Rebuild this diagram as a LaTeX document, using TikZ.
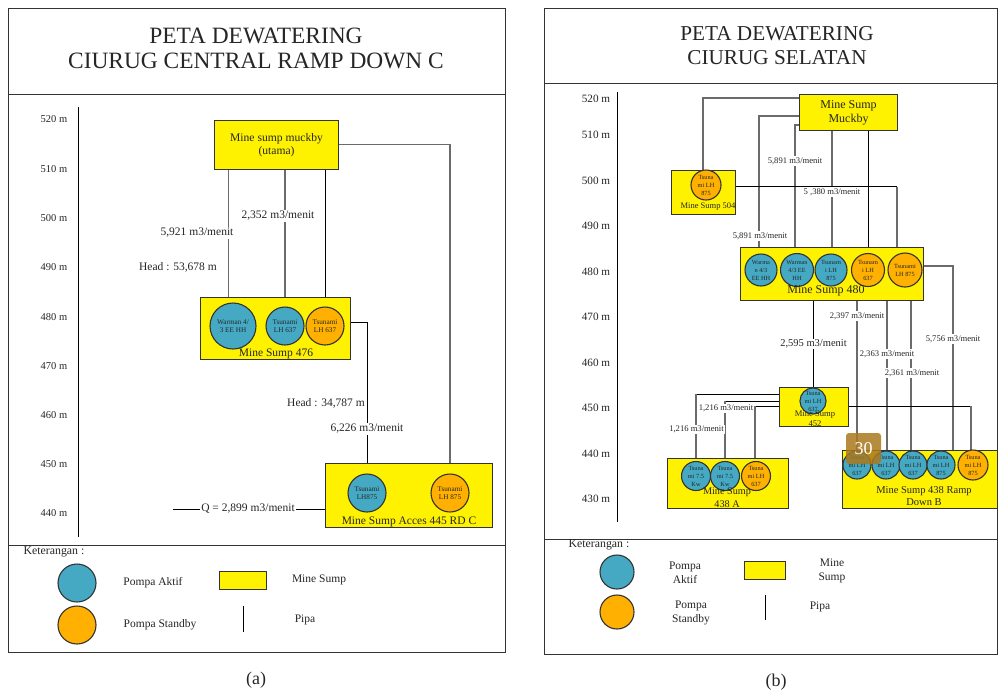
\documentclass[tikz,border=0pt]{standalone}
\usepackage{fontspec}
\setmainfont{Liberation Serif}
\definecolor{aktif}{HTML}{45A9C4}
\definecolor{standby}{HTML}{FFB000}
\definecolor{pipe}{gray}{0.42}
\definecolor{edge}{gray}{0.2}
\newcommand{\fs}[1]{\fontsize{#1}{#1}\selectfont}
\newcommand{\fsb}[2]{\fontsize{#1}{#2}\selectfont}
\tikzset{
  panel/.style={draw=edge,line width=1pt},
  sump/.style={draw=edge,line width=1.1pt,fill=yellow,anchor=north west,inner sep=0pt,align=center},
  pomp/.style={circle,draw=edge,line width=1.1pt,inner sep=0pt,align=center,text=black!85},
  act/.style={pomp,fill=aktif},
  stby/.style={pomp,fill=standby},
  gp/.style={draw=pipe,line width=1.8pt},
  bp/.style={draw=black,line width=1pt},
  lbl/.style={inner sep=0pt,align=center,text=black!85},
  flow/.style={lbl,fill=white,inner xsep=1pt,inner ysep=1pt},
  smalltxt/.style={font=\fsb{7.2}{8}},
  tinytxt/.style={font=\fsb{6.3}{8}},
}
\begin{document}
\begin{tikzpicture}[x=1pt,y=-1pt]
\useasboundingbox (0,0) rectangle (998,694);
\fill[white] (0,0) rectangle (998,694);
% ---------- panel a
\node[panel,anchor=north west,minimum width=497pt,minimum height=644pt,inner sep=0pt] (pa) at (8,8) {};
\coordinate (paT) at (8,94); \coordinate (paL) at (8,545);
\draw[panel] (paT) -- (paT -| pa.east);
\draw[panel] (paL) -- (paL -| pa.east);
\node[lbl,font=\fs{23.4}] (ta1) at (256,36) {PETA DEWATERING};
\node[lbl,font=\fs{23.4}] (ta2) at (256,61) {CIURUG CENTRAL RAMP DOWN C};
\coordinate (axa1) at (78,107); \coordinate (axa2) at (78,537);
\draw[black,line width=1pt] (axa1) -- (axa2);
\foreach \n/\v/\y in {a1/520/119,a2/510/169,a3/500/218,a4/490/267,a5/480/317,a6/470/366,a7/460/415,a8/450/464,a9/440/513}
  \node[lbl,font=\fs{10.5}] (lev\n) at (54,\y) {\v{} m};
\node[sump,minimum width=124pt,minimum height=49pt,font=\fsb{11.6}{13.5},text=black!85] (mk) at (214,120) {Mine sump muckby\\(utama)};
\node[sump,minimum width=150pt,minimum height=62pt] (s476) at (200,297) {};
\node[sump,minimum width=167pt,minimum height=64pt] (s445) at (325,463) {};
\node[act,minimum size=46pt,smalltxt] (w1) at (233,326) {Warman 4/\\3 EE HH};
\node[act,minimum size=38pt,smalltxt] (t1) at (285,326) {Tsunami\\LH 637};
\node[stby,minimum size=38pt,smalltxt] (t2) at (325,326) {Tsunami\\LH 637};
\node[act,minimum size=38pt,smalltxt] (t3) at (367,493) {Tsunami\\LH875};
\node[stby,minimum size=38pt,smalltxt] (t4) at (450,493) {Tsunami\\LH 875};
\node[lbl,font=\fs{11.5}] (n476) at (276,354) {Mine Sump  476};
\node[lbl,font=\fs{11.5}] (n445) at (409,522) {Mine Sump Acces 445 RD C};
\draw[gp] (228.5,0 |- mk.south) -- (228.5,0 |- s476.north);
\draw[gp] (285,0 |- mk.south) -- (285,0 |- s476.north);
\draw[bp] (325,0 |- mk.south) -- (325,0 |- s476.north);
\draw[gp] (0,144.5 -| mk.east) -- (450,144.5) -- (450,0 |- s445.north);
\draw[bp] (0,322 -| s476.east) -- (367,322) -- (367,0 |- s445.north);
\coordinate (qa) at (173,509);
\draw[black,line width=.8pt] (qa) -- (qa -| s445.west);
\node[flow,font=\fs{11.5}] (f1) at (197,233) {5,921 m3/menit};
\node[flow,font=\fs{11.5}] (f2) at (278,216) {2,352 m3/menit};
\node[lbl,font=\fs{11.5}] (f3) at (178,267) {Head : 53,678 m};
\node[lbl,font=\fs{11.5}] (f4) at (326,403) {Head : 34,787 m};
\node[flow,font=\fs{11.5}] (f5) at (367,429) {6,226 m3/menit};
\node[flow,font=\fs{11.5}] (f6) at (248,509) {Q = 2,899 m3/menit};
\node[lbl,font=\fs{11.8}] (ka) at (54,552) {Keterangan :};
\node[act,minimum size=38pt] (la1) at (77,583) {};
\node[stby,minimum size=38pt] (la2) at (77,625) {};
\node[lbl,font=\fs{11.5}] (la3) at (153,583) {Pompa Aktif};
\node[lbl,font=\fs{11.5}] (la4) at (160,625) {Pompa Standby};
\node[sump,minimum width=47pt,minimum height=18pt] (la5) at (219,571) {};
\node[lbl,font=\fs{11.5}] (la6) at (319,580) {Mine Sump};
\coordinate (pa1) at (243,606); \coordinate (pa2) at (243,632);
\draw[black,line width=.8pt] (pa1) -- (pa2);
\node[lbl,font=\fs{11.5}] (la7) at (305,620) {Pipa};
\node[lbl,font=\fs{18}] (capa) at (256,680) {(a)};
% ---------- panel b
\node[panel,anchor=north west,minimum width=453pt,minimum height=646pt,inner sep=0pt] (pb) at (544,8) {};
\coordinate (pbT) at (544,83); \coordinate (pbL) at (544,539);
\draw[panel] (pbT) -- (pbT -| pb.east);
\draw[panel] (pbL) -- (pbL -| pb.east);
\node[lbl,font=\fs{21.2}] (tb1) at (777,34) {PETA DEWATERING};
\node[lbl,font=\fs{21.2}] (tb2) at (777,58) {CIURUG SELATAN};
\coordinate (axb1) at (617,92); \coordinate (axb2) at (617,522);
\draw[black,line width=1pt] (axb1) -- (axb2);
\foreach \n/\v/\y in {b1/520/99,b2/510/135,b3/500/181,b4/490/226,b5/480/272,b6/470/317,b7/460/363,b8/450/408,b9/440/454,b10/430/499}
  \node[lbl,font=\fs{11.2}] (lev\n) at (596,\y) {\v{} m};
\node[sump,minimum width=98pt,minimum height=36pt,font=\fsb{12}{14},text=black!85] (mb) at (799,94) {Mine Sump\\Muckby};
\node[sump,minimum width=64pt,minimum height=44pt] (s504) at (671,170) {};
\node[sump,minimum width=183pt,minimum height=53pt] (s480) at (740,247) {};
\node[sump,minimum width=69pt,minimum height=39pt] (s452) at (779,387) {};
\node[sump,minimum width=121pt,minimum height=50pt] (s438a) at (667,458) {};
\node[sump,minimum width=155pt,minimum height=58pt] (s438b) at (842,450) {};
% pipes
\draw[gp] (0,98 -| mb.west) -- (703,98) -- (703,0 |- s504.north);
\draw[gp] (0,116 -| mb.west) -- (759,116) -- (759,0 |- s480.north);
\draw[gp] (0,125 -| mb.west) -- (795,125) -- (795,0 |- s480.north);
\draw[gp] (832,0 |- mb.south) -- (832,0 |- s480.north);
\draw[bp] (868,0 |- mb.south) -- (868,0 |- s480.north);
\draw[bp] (0,186.5 -| s504.east) -- (897,186.5);
\draw[gp] (897,186.5) -- (897,0 |- s480.north);
\draw[bp] (813.5,0 |- s480.south) -- (813.5,0 |- s452.north);
\draw[gp] (857,0 |- s480.south) -- (857,0 |- s438b.north);
\draw[gp] (887,0 |- s480.south) -- (887,0 |- s438b.north);
\draw[gp] (911,0 |- s480.south) -- (911,0 |- s438b.north);
\draw[gp] (0,266 -| s480.east) -- (953,266) -- (953,0 |- s438b.north);
\draw[bp] (0,394 -| s452.west) -- (696,394);
\draw[gp] (696,394) -- (696,0 |- s438a.north);
\draw[bp] (0,401 -| s452.west) -- (725,401);
\draw[gp] (725,401) -- (725,0 |- s438a.north);
\draw[bp] (0,406 -| s452.west) -- (755,406);
\draw[gp] (755,406) -- (755,0 |- s438a.north);
\draw[bp] (0,406 -| s452.east) -- (971,406);
\draw[gp] (971,406) -- (971,0 |- s438b.north);
% pumps
\node[stby,minimum size=30pt,tinytxt] (p1) at (706,185) {Tsuna\\mi LH\\875};
\node[lbl,font=\fs{8.5}] (n504) at (708,207) {Mine Sump 504};
\node[act,minimum size=32pt,tinytxt] (p2) at (761,270) {Warma\\n 4/3\\EE HH};
\node[act,minimum size=33pt,tinytxt] (p3) at (797,270) {Warman\\4/3 EE\\HH};
\node[act,minimum size=32pt,tinytxt] (p4) at (831,270) {Tsunam\\i LH\\875};
\node[stby,minimum size=33pt,tinytxt] (p5) at (868,270) {Tsunam\\i LH\\637};
\node[stby,minimum size=34pt,tinytxt] (p6) at (905,270) {Tsunami\\LH 875};
\node[lbl,font=\fs{12}] (n480) at (826,291) {Mine Sump 480};
\node[act,minimum size=26pt,tinytxt] (p7) at (813,401) {Tsuna\\mi LH\\637};
\node[lbl,font=\fsb{8.6}{10}] (n452) at (815,419) {Mine Sump\\452};
\node[act,minimum size=29pt,tinytxt] (p8) at (696,476) {Tsuna\\mi 7.5\\Kw};
\node[act,minimum size=29pt,tinytxt] (p9) at (725,476) {Tsuna\\mi 7.5\\Kw};
\node[stby,minimum size=29pt,tinytxt] (p10) at (756,476) {Tsuna\\mi LH\\637};
\node[lbl,font=\fsb{10.2}{13}] (n438a) at (727,498) {Mine Sump\\438 A};
\node[act,minimum size=28pt,tinytxt] (p11) at (857,465) {Tsuna\\mi LH\\637};
\node[act,minimum size=28pt,tinytxt] (p12) at (886,465) {Tsuna\\mi LH\\637};
\node[act,minimum size=28pt,tinytxt] (p13) at (913,465) {Tsuna\\mi LH\\637};
\node[act,minimum size=28pt,tinytxt] (p14) at (941,465) {Tsuna\\mi LH\\875};
\node[stby,minimum size=30pt,tinytxt] (p15) at (973,465) {Tsuna\\mi LH\\875};
\node[lbl,font=\fsb{10.5}{12}] (n438b) at (924,496) {Mine Sump 438 Ramp\\Down B};
% flow labels
\foreach \n/\x/\y/\t in {g1/795/161/{5,891 m3/menit},g2/832/192/{5 ,380 m3/menit},g3/760/236/{5,891 m3/menit},g4/857/316/{2,397 m3/menit},g5/887/354/{2,363 m3/menit},g6/912/373/{2,361 m3/menit},g7/953/339/{5,756 m3/menit},g8/726/408/{1,216 m3/menit},g9/696.5/429/{1,216 m3/menit}}
  \node[flow,font=\fs{8.6}] (\n) at (\x,\y) {\t};
\node[flow,font=\fs{10.5}] (g10) at (813.5,344) {2,595 m3/menit};
% legend
\node[lbl,font=\fs{11.8}] (kb) at (599,545) {Keterangan :};
\node[act,minimum size=34pt] (lb1) at (617,572) {};
\node[stby,minimum size=34pt] (lb2) at (617,612) {};
\node[lbl,font=\fsb{11.5}{14}] (lb3) at (685,573) {Pompa\\Aktif};
\node[lbl,font=\fsb{11.5}{14}] (lb4) at (691,613) {Pompa\\Standby};
\node[sump,minimum width=41pt,minimum height=18pt] (lb5) at (744,561) {};
\node[lbl,font=\fsb{11.5}{14}] (lb6) at (832,571) {Mine\\Sump};
\coordinate (pb1) at (765,595); \coordinate (pb2) at (765,620);
\draw[black,line width=.8pt] (pb1) -- (pb2);
\node[lbl,font=\fs{11.5}] (lb7) at (820,607) {Pipa};
\node[lbl,font=\fs{18}] (capb) at (776,682) {(b)};
% overlay badge
\node[rounded corners=3pt,fill={rgb,255:red,170;green,120;blue,30},fill opacity=.85,text opacity=1,text=white,minimum width=35pt,minimum height=31pt,inner sep=0pt,font=\fs{18}] (badge) at (863.5,448.5) {30};
\end{tikzpicture}
\end{document}
